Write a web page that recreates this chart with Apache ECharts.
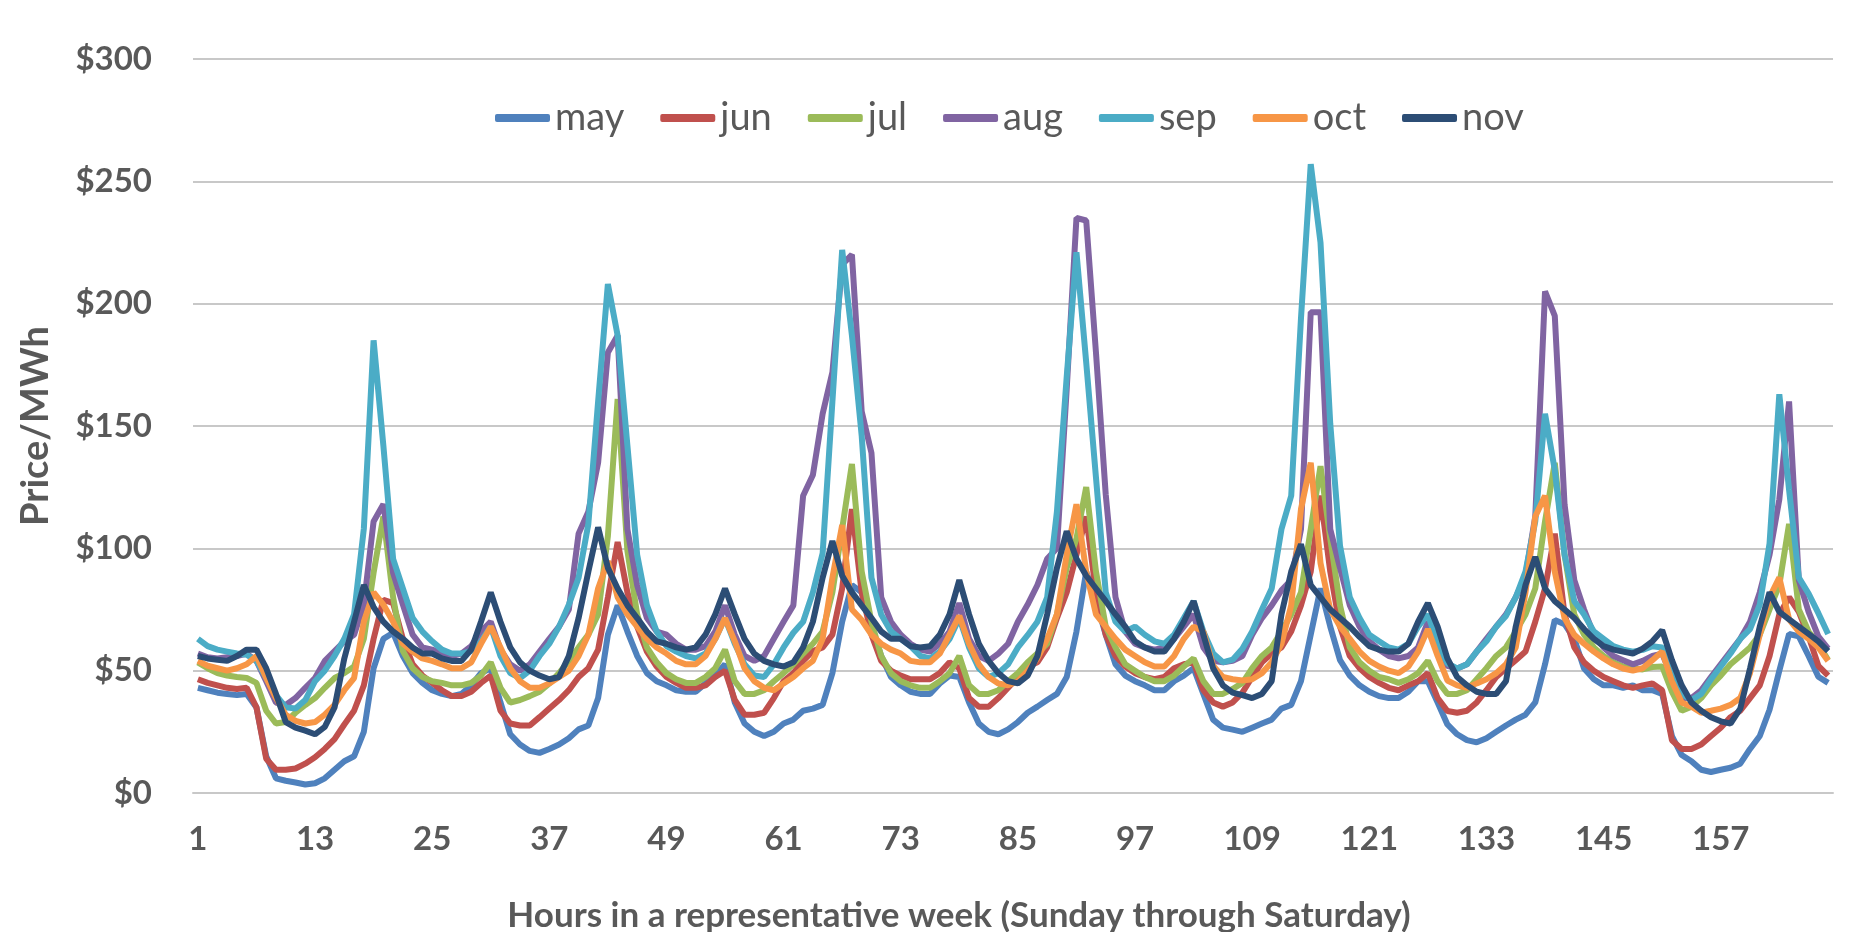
<!DOCTYPE html>
<html style="height: 100%">
<head>
    <meta charset="utf-8">
    <title>Price per MWh by hour</title>
    <script src="https://cdn.jsdelivr.net/npm/echarts@6/dist/echarts.min.js"></script>
</head>
<body style="height: 100%; margin: 0; background: #fff">
<div id="container" style="height: 100%"></div>
<script type="text/javascript">
    // hours 1..168 of a representative week
    var hours = [];
    for (var i = 1; i <= 168; i++) {
        hours.push(String(i));
    }

    var months = ['may', 'jun', 'jul', 'aug', 'sep', 'oct', 'nov'];
    var colors = ['#4F81BD', '#C0504D', '#9BBB59', '#8064A2', '#4BACC6', '#F79646', '#2C4D75'];
    var yTicks = [0, 50, 100, 150, 200, 250, 300];

    // one row per day (24 hours)
    var may = [
        43, 42, 41, 40.5, 40, 40.5, 35, 15, 6, 5, 4.3, 3.5, 4, 6, 9.5, 13, 15, 25, 51, 63, 65.5, 56, 49, 45,
        42, 40.5, 39.6, 40.5, 44, 49, 51, 37, 24, 19.8, 17.2, 16.4, 18, 19.8, 22.4, 26, 27.6, 38.8, 64.7, 76.7, 66, 56, 49, 45.7,
        44, 42, 41.4, 41.4, 44.8, 48, 52.6, 37, 28.4, 25, 23.3, 25, 28.4, 30, 33.6, 34.5, 36, 49, 70, 85, 82, 68, 56, 47.4,
        44, 41.4, 40.5, 40.5, 44.8, 48, 47.4, 37, 28.4, 25, 24, 26, 29, 32.8, 35.3, 38, 40.5, 47.4, 66, 90.5, 78.4, 64.7, 52.6, 48,
        45.7, 44, 42, 42, 45.7, 48, 51, 40.5, 30, 26.7, 25.9, 25, 26.7, 28.4, 30, 34.5, 36, 45.7, 64.7, 83.6, 68, 54.3, 48, 44,
        41.4, 39.6, 38.8, 38.8, 41.4, 45.7, 45.7, 37, 28, 24, 21.6, 20.7, 22.4, 25, 27.6, 30, 32, 37, 52.6, 70.7, 69, 63, 50.9, 46.5,
        44, 44, 43, 44, 42, 42, 40.5, 23.3, 15.5, 13, 9.5, 8.6, 9.5, 10.3, 12, 18, 23.3, 34, 50, 65, 64, 56, 47.5, 45
    ];
    var jun = [
        46.5, 45, 44, 43, 42.5, 43, 35, 14, 9.5, 9.5, 10, 12, 14.6, 18, 22, 28, 33.6, 44, 63, 79, 77.6, 63, 52.6, 48,
        45, 42, 39.6, 39.6, 41.4, 45, 48, 33.6, 28.4, 27.6, 27.6, 31, 34.5, 38, 42, 47.4, 51, 58.6, 80, 102.6, 82, 68, 57.8, 51.7,
        47.4, 45, 43, 43, 44, 47.4, 50, 38, 32, 32, 32.8, 38.8, 45.7, 49, 54, 58, 59.5, 64.7, 83.6, 116, 82, 64.7, 54, 50,
        48, 46.5, 46.5, 46.5, 49, 53.4, 51, 38.8, 35.3, 35.3, 38.8, 43, 47.4, 51.7, 53.4, 59.5, 71.5, 82, 97.4, 113, 82, 64.7, 56, 51.7,
        49, 47.4, 46.5, 47.4, 51, 52.6, 53.4, 42, 37, 35.3, 37, 41, 47.4, 53.4, 57, 59.5, 66, 76.7, 90.5, 121.5, 90.5, 68, 56, 51,
        47.4, 45, 43, 42, 44, 45.7, 49, 38.8, 33.5, 32.8, 33.6, 37, 42, 47.4, 50.9, 54.3, 57.8, 70, 83.6, 106, 73, 59.5, 53.4, 50,
        47.4, 45.7, 44, 43, 44, 44.8, 42, 21.6, 18, 18, 19.8, 23.3, 26.7, 31, 33.6, 38.8, 44, 56, 73, 80, 74, 64, 52, 48
    ];
    var jul = [
        53.4, 51, 49, 48, 47.4, 47, 45, 33.6, 28.4, 29, 32.8, 36, 38.8, 43, 47, 49, 51.7, 63, 90, 113, 80, 58, 51, 47.4,
        45.7, 45, 44, 44, 45, 48, 53.4, 43, 37, 38, 39.6, 41.4, 44.8, 49, 54, 59.5, 64.7, 73, 105, 161, 99, 73, 59.5, 53.4,
        49, 46.5, 45, 45, 47.4, 51, 58.6, 45.7, 40.5, 40.5, 42, 45.7, 49, 52.6, 57, 61, 66, 82, 108, 134.5, 90.5, 70, 56, 49,
        45.7, 44, 43, 43, 45.7, 49, 56, 44, 40.5, 40.5, 42, 45.7, 49, 53.4, 57, 61, 73, 92, 104, 125, 90.5, 68, 59.5, 52.6,
        50, 47.4, 45.7, 45.7, 48, 51.7, 55, 45.7, 40.5, 40.5, 42.5, 45, 51, 56, 59.5, 66, 73, 82, 107.8, 133.6, 104, 76.7, 59.5, 53.4,
        50, 47.4, 46.5, 45, 46.5, 49, 54, 45.7, 40.5, 40.5, 42, 46.5, 51, 56, 59.5, 66, 73, 83.6, 111, 135, 97.4, 73, 64.7, 59.5,
        56, 53.4, 51.7, 50.9, 50.5, 51.5, 51.7, 41.4, 33.6, 35.3, 38.8, 44, 48, 52.6, 56, 59.5, 64.7, 75, 85, 110, 75, 66, 61, 54.3
    ];
    var aug = [
        57, 55.5, 55, 55.5, 56, 57, 54, 45.7, 37, 36, 38.8, 43, 47, 54, 58, 62, 64.7, 77, 111, 118, 90, 77, 64.7, 59.5,
        58.6, 57, 56, 57, 60, 66, 70, 58.6, 52.6, 50, 52.6, 57.8, 63, 68, 75, 106, 115, 135, 180, 187, 107.8, 85, 71.5, 66,
        64.7, 61, 58.6, 58.6, 60, 66, 76.7, 64.7, 56, 54, 56, 63, 70, 76.7, 121.5, 130, 155, 172, 216, 220, 156, 139, 80, 70,
        64.7, 61, 58.6, 57.8, 61, 66, 77.6, 63, 56, 54, 57, 61, 70, 77, 85, 95.7, 100, 165, 235, 234, 180, 122, 80, 66,
        61, 59.5, 58.6, 59.5, 63, 68, 73, 59.5, 54, 53.4, 54, 56, 64.7, 71.5, 76.7, 82.8, 87, 107.8, 196.5, 196.5, 107.8, 92, 76.7, 68,
        62, 58.6, 56, 55, 56, 59.5, 70, 57, 52, 50.9, 52.6, 57.8, 63, 68, 73, 80, 88.8, 113, 205, 195, 118, 87, 75, 64.7,
        59.5, 56, 54.3, 52.6, 54, 56, 57, 47.4, 38.8, 38.8, 42, 47.4, 52.6, 57.8, 63, 70, 82, 97.4, 120, 160, 87, 74, 64, 59
    ];
    var sep = [
        63, 60, 58.6, 57.8, 57, 56.5, 54, 47, 40, 35, 34.5, 38, 45.7, 50, 56, 63, 73, 108, 185, 142, 95.7, 83.6, 71.5, 66,
        62, 58.6, 57, 57, 58, 62, 68, 56, 49, 47, 50, 56, 61, 68, 77, 88, 110, 160, 208, 187, 142, 97.4, 76.7, 66,
        60, 57.8, 56, 55, 57, 63, 71.5, 61, 52.6, 48, 47.4, 52.6, 59.5, 65.5, 70, 82, 98, 160, 222, 187, 146, 88, 73, 66,
        63, 60, 56, 55, 57.8, 63, 71.5, 59.5, 51, 47.4, 49, 52.6, 59.5, 64.5, 70, 80, 115, 170, 221, 176, 129, 82, 70, 66,
        68, 64.7, 62, 61, 64.7, 71.5, 78.4, 66, 57, 53.4, 54.5, 59, 66, 75, 83.6, 107.8, 121.5, 194, 257, 225, 150.9, 101, 80, 71.5,
        64.7, 62, 59.5, 58.6, 61, 68, 73, 61, 53, 50.9, 52.6, 57.8, 62, 68, 72.4, 80, 90.5, 111, 155, 132, 97.4, 78.4, 73, 66,
        63, 60, 58.6, 57.8, 58.5, 60, 59.5, 49, 40.5, 38, 40.5, 46.5, 51.7, 57, 63, 67, 77, 102, 163, 124, 88, 81.5, 73.5, 65
    ];
    var oct = [
        54, 52, 51, 50, 51, 52.6, 56, 47, 38.8, 32, 29.5, 28.4, 29, 32, 36, 42, 47, 70, 82, 77, 70, 61, 57.8, 55,
        54, 52.6, 51, 51, 53.4, 61, 68, 59.5, 51, 45.7, 43, 43, 44.8, 47.4, 50, 56, 64.7, 83.6, 94.8, 80, 73, 68, 63, 59.5,
        57, 54, 52.6, 52.6, 56, 63, 71.5, 62, 51, 45.7, 43, 42, 44.8, 47.4, 51, 54, 63, 88, 109.5, 75, 70.7, 64.7, 61, 58.6,
        57, 54, 53.4, 53.4, 57, 64.7, 72.4, 61, 52.6, 47.4, 44.8, 44, 45.7, 50, 55, 63, 73, 97.4, 118, 90.5, 73, 68, 63, 58.6,
        56, 53.4, 51.7, 51.7, 56, 63, 68, 66, 52, 47.4, 46.5, 46, 46.5, 49, 53.4, 61, 76.7, 116, 135, 94, 75, 68, 63, 57.8,
        54, 51.7, 50, 49, 51.7, 57.8, 67, 56, 46, 44, 43, 44.8, 46.5, 49, 52.6, 59.5, 82, 113, 121.5, 90.5, 71.5, 64.7, 61, 57.8,
        55, 52.6, 50.9, 50, 51, 54.3, 57.8, 45.7, 37, 35.3, 32.8, 33.6, 34.5, 36, 38.8, 49, 64.7, 80, 88, 71, 66, 63, 59.5, 54
    ];
    var nov = [
        56, 55, 54.5, 54, 56, 58.6, 58.6, 51, 40.5, 29, 26.7, 25.5, 24, 27, 35, 55, 70, 85, 76, 70, 66, 63, 59.5, 57,
        57, 55, 54, 54, 58.6, 70, 82, 70, 59.5, 53.4, 50, 48, 46.5, 47.4, 56, 71.5, 90.5, 108.6, 92, 83.6, 76.7, 71.5, 66, 62,
        61, 59.5, 58.6, 59.5, 64.7, 73, 83.6, 73, 63, 57, 54, 52.6, 51.7, 53.4, 59.5, 70, 88, 103, 88.8, 82, 76.7, 71.5, 66, 63,
        63, 60, 59.5, 60, 64.7, 73, 87, 73, 61, 54, 49, 45.7, 44.8, 48, 56, 73, 92, 107, 95.7, 88.8, 83.6, 78.4, 73, 68,
        62, 59.5, 57.8, 57.8, 63, 70, 78.4, 64.7, 51, 44, 41, 40, 38.8, 40.5, 45.7, 73, 90.5, 101.7, 85, 80, 75, 71.5, 68, 63.8,
        60, 58.6, 57.8, 57.8, 61, 70, 77.6, 68, 55, 47.4, 44, 41.4, 40.5, 40.5, 45.7, 68, 85, 96.5, 83.6, 78.4, 75, 71.5, 67, 63,
        60, 58.6, 57.8, 57, 59, 62, 66.5, 54.3, 44, 37, 33.6, 31, 29.3, 28.4, 34.5, 50.9, 68, 82, 74, 71, 68, 65, 62, 58
    ];

    var values = [may, jun, jul, aug, sep, oct, nov];

    var dom = document.getElementById("container");
    var myChart = echarts.init(dom);
    var textColor = '#595959';
    var gridColor = '#c8c8c8';

    var series = [];
    for (var s = 0; s < months.length; s++) {
        series.push({
            name: months[s],
            type: 'line',
            data: values[s],
            symbol: 'none',
            showSymbol: false,
            lineStyle: { color: colors[s], width: 6 },
            itemStyle: { color: colors[s] },
            emphasis: { disabled: true }
        });
    }

    var option = {
        animation: false,
        backgroundColor: '#ffffff',
        textStyle: { fontFamily: 'Lato' },
        grid: {
            left: 193,
            right: 18,
            top: 59,
            bottom: 139,
            outerBoundsMode: 'none'
        },
        legend: {
            data: months,
            left: 490,
            top: 94,
            icon: 'roundRect',
            itemWidth: 55,
            itemHeight: 8,
            itemGap: 36,
            textStyle: { fontSize: 38, color: textColor }
        },
        xAxis: {
            type: 'category',
            data: hours,
            boundaryGap: true,
            axisTick: { show: false },
            axisLine: { lineStyle: { color: gridColor, width: 2 } },
            axisLabel: {
                interval: 11,
                margin: 30,
                fontSize: 33,
                fontWeight: 'bold',
                color: textColor
            }
        },
        yAxis: {
            type: 'value',
            min: yTicks[0],
            max: yTicks[yTicks.length - 1],
            interval: 50,
            name: 'Price/MWh',
            nameLocation: 'middle',
            nameRotate: 90,
            nameGap: 138,
            nameTextStyle: { fontSize: 38, fontWeight: 'bold', color: textColor },
            axisLine: { show: false },
            axisTick: { show: false },
            axisLabel: {
                margin: 41,
                fontSize: 33,
                fontWeight: 'bold',
                color: textColor,
                formatter: function (v) { return '$' + v; }
            },
            splitLine: { lineStyle: { color: gridColor, width: 2 } }
        },
        graphic: [{
            type: 'text',
            x: 959,
            y: 916,
            style: {
                text: 'Hours in a representative week (Sunday through Saturday)',
                font: 'bold 35px Lato',
                fill: textColor,
                textAlign: 'center',
                textVerticalAlign: 'middle'
            }
        }],
        series: series
    };

    if (option && typeof option === "object") {
        myChart.setOption(option, true);
    }
</script>
</body>
</html>
